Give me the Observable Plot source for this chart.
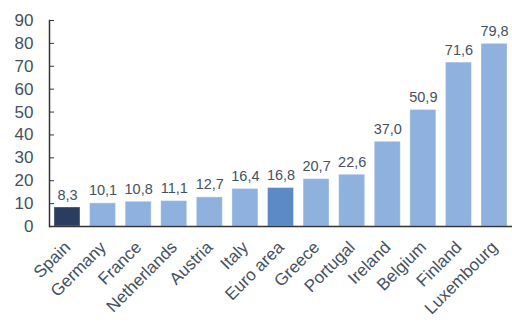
<!DOCTYPE html>
<html>
<head>
<meta charset="utf-8">
<script src="https://cdn.jsdelivr.net/npm/d3@7"></script>
<script src="https://cdn.jsdelivr.net/npm/@observablehq/plot@0.6"></script>
<style>
  html, body { margin: 0; padding: 0; background: #fff; }
  svg { font-family: "Liberation Sans", Arial, sans-serif; }
</style>
</head>
<body>
<div id="chart"></div>
<script>
const countries = ["Spain","Germany","France","Netherlands","Austria","Italy","Euro area","Greece","Portugal","Ireland","Belgium","Finland","Luxembourg"];
const values = [8.3,10.1,10.8,11.1,12.7,16.4,16.8,20.7,22.6,37.0,50.9,71.6,79.8];
const yTicks = [0,10,20,30,40,50,60,70,80,90];

const data = countries.map((c, i) => ({country: c, value: values[i]}));
const barColor = c => c === "Spain" ? "#2a3c5f" : c === "Euro area" ? "#5b8ac6" : "#8fb1dd";
const textColor = "#44505f";

const chart = Plot.plot({
  width: 512,
  height: 323,
  marginLeft: 49,
  marginRight: 0,
  marginTop: 20,
  marginBottom: 97,
  style: {fontFamily: "'Liberation Sans', Arial, sans-serif", background: "#fff"},
  x: {domain: countries, paddingInner: 0.27, paddingOuter: 0.14, round: false, label: null},
  y: {domain: [0, 90], label: null},
  marks: [
    Plot.barY(data, {x: "country", y: "value", fill: d => barColor(d.country), stroke: "#ffffff", strokeOpacity: 0.35, strokeWidth: 1}),
    Plot.text(data, {x: "country", y: "value", text: d => d.value.toFixed(1).replace(".", ","), lineAnchor: "bottom", dy: -8, fontSize: 14.5, fill: textColor}),
    Plot.axisY({ticks: yTicks, tickSize: 0, tickPadding: 16, fontSize: 17, color: textColor, label: null}),
    Plot.axisY({ticks: yTicks, tickSize: -5, text: null, stroke: "#333", label: null}),
    Plot.axisX({tickSize: 0, tickRotate: -45, tickPadding: 18, dx: 0, fontSize: 17, color: textColor, label: null}),
    Plot.ruleY([0], {stroke: "#333", strokeWidth: 1.5}),
    Plot.frame({anchor: "left", stroke: "#333", strokeWidth: 1.5})
  ]
});
document.getElementById("chart").appendChild(chart);
</script>
</body>
</html>
